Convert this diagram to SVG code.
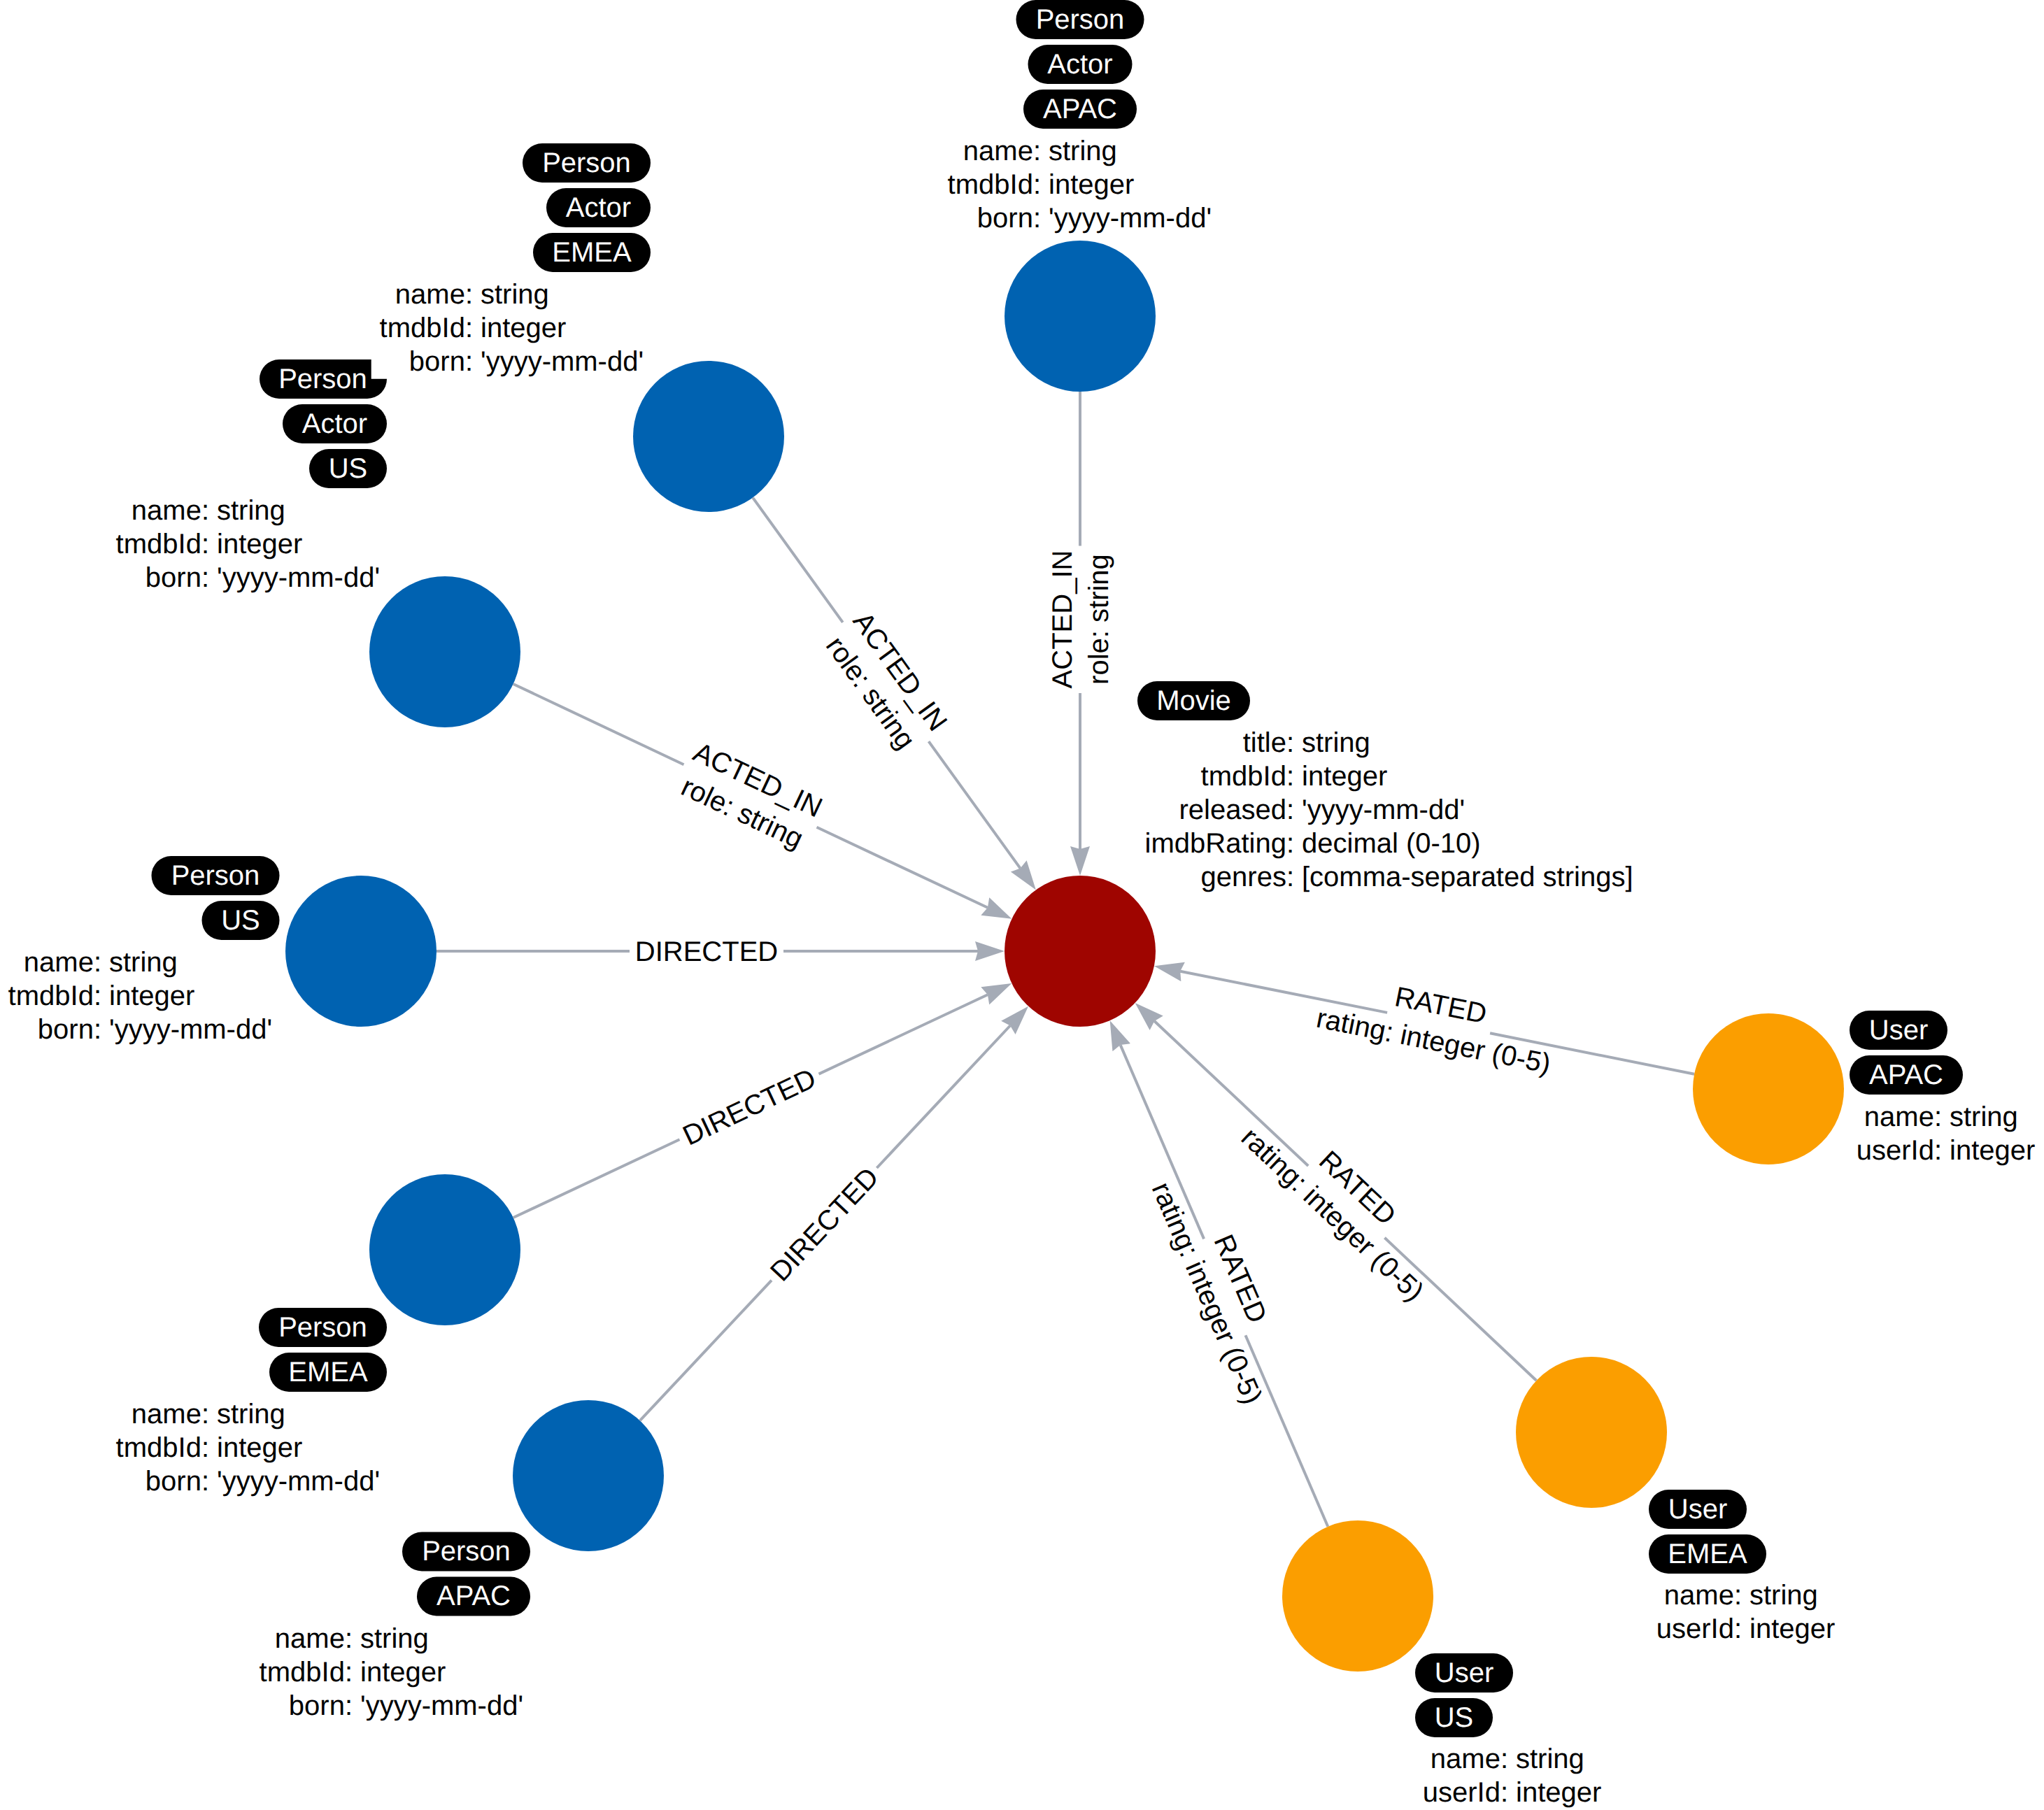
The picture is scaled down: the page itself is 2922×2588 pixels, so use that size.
<svg xmlns="http://www.w3.org/2000/svg" width="2922" height="2588" viewBox="0 0 2922 2588">
<style>
text{font-family:"Liberation Sans",Arial,Helvetica,sans-serif;font-size:40px;fill:#000;text-rendering:geometricPrecision}
.l{fill:#fff;text-anchor:middle}
.k{text-anchor:end}
.c{text-anchor:middle}
.p{fill:#000}
.b{fill:#0062b1}.r{fill:#9f0500}.o{fill:#fb9e00}
#edges line{stroke:#a5abb6;stroke-width:4}
.a{marker-end:url(#arrow)}
</style>
<defs>
<marker id="arrow" markerUnits="userSpaceOnUse" viewBox="0 0 42 30" markerWidth="42" markerHeight="30" refX="4" refY="15" orient="auto">
<path d="M0,1 L42,15 L0,29 L4,15 Z" fill="#a5abb6"/>
</marker>
</defs>
<rect width="2922" height="2588" fill="#fff"/>
<g id="edges">
<line x1="1544" y1="560" x2="1544" y2="780.5"/><line class="a" x1="1544" y1="991" x2="1544" y2="1214"/>
<text class="c" transform="translate(1544,885.5) rotate(-90)" y="-12">ACTED_IN</text>
<text class="c" transform="translate(1544,885.5) rotate(-90)" y="40">role: string</text>

<line x1="1076.2" y1="711.6" x2="1204.8" y2="889.8"/><line class="a" x1="1327.6" y1="1060.2" x2="1458.6" y2="1241.6"/>
<text class="c" transform="translate(1266.2,975) rotate(54.19)" y="-12">ACTED_IN</text>
<text class="c" transform="translate(1266.2,975) rotate(54.19)" y="40">role: string</text>

<line x1="733.7" y1="978" x2="977.5" y2="1093.2"/><line class="a" x1="1167.5" y1="1182.8" x2="1411.9" y2="1297.7"/>
<text class="c" transform="translate(1072.5,1138) rotate(25.24)" y="-12">ACTED_IN</text>
<text class="c" transform="translate(1072.5,1138) rotate(25.24)" y="40">role: string</text>

<line x1="624" y1="1360" x2="900" y2="1360"/><line class="a" x1="1120" y1="1360" x2="1398" y2="1360"/>
<text class="c" transform="translate(1010,1360)" y="14">DIRECTED</text>

<line x1="733.7" y1="1741" x2="971.5" y2="1629.2"/><line class="a" x1="1170.5" y1="1535.6" x2="1411.9" y2="1422.2"/>
<text class="c" transform="translate(1071,1582.4) rotate(-25.18)" y="14">DIRECTED</text>

<line x1="914.9" y1="2031.2" x2="1103" y2="1830.6"/><line class="a" x1="1253.4" y1="1670" x2="1444.1" y2="1466.5"/>
<text class="c" transform="translate(1178.2,1750.3) rotate(-46.85)" y="14">DIRECTED</text>

<line x1="1898.3" y1="2182.8" x2="1780.5" y2="1909.2"/><line class="a" x1="1721.1" y1="1771.4" x2="1601.7" y2="1494.1"/>
<text class="c" transform="translate(1750,1838.5) rotate(66.7)" y="-12">RATED</text>
<text class="c" transform="translate(1750,1838.5) rotate(66.7)" y="40">rating: integer (0-5)</text>

<line x1="2196.4" y1="1974" x2="1979.4" y2="1769.8"/><line class="a" x1="1870.2" y1="1667" x2="1650.3" y2="1460"/>
<text class="c" transform="translate(1923.3,1717) rotate(43.26)" y="-12">RATED</text>
<text class="c" transform="translate(1923.3,1717) rotate(43.26)" y="40">rating: integer (0-5)</text>

<line x1="2422.1" y1="1535.8" x2="2130.1" y2="1477.3"/><line class="a" x1="1983.1" y1="1447.9" x2="1687.2" y2="1388.7"/>
<text class="c" transform="translate(2054.6,1462.2) rotate(11.32)" y="-12">RATED</text>
<text class="c" transform="translate(2054.6,1462.2) rotate(11.32)" y="40">rating: integer (0-5)</text>
</g>

<g id="movie">
<circle class="r" cx="1544" cy="1360" r="108"/>
<rect class="p" x="1626" y="974" width="161" height="56" rx="28"/>
<text class="l" x="1706.5" y="1014.5">Movie</text>
<text class="k" x="1850" y="1074.5">title:</text><text x="1861" y="1074.5">string</text>
<text class="k" x="1850" y="1122.5">tmdbId:</text><text x="1861" y="1122.5">integer</text>
<text class="k" x="1850" y="1170.5">released:</text><text x="1861" y="1170.5">'yyyy-mm-dd'</text>
<text class="k" x="1850" y="1218.5">imdbRating:</text><text x="1861" y="1218.5">decimal (0-10)</text>
<text class="k" x="1850" y="1266.5">genres:</text><text x="1861" y="1266.5">[comma-separated strings]</text>
</g>

<g id="actor-apac">
<circle class="b" cx="1544" cy="452" r="108"/>
<rect class="p" x="1452.5" y="0" width="183" height="56" rx="28"/><text class="l" x="1544" y="40.5">Person</text>
<rect class="p" x="1469.5" y="64" width="149" height="56" rx="28"/><text class="l" x="1544" y="104.5">Actor</text>
<rect class="p" x="1463" y="128" width="162" height="56" rx="28"/><text class="l" x="1544" y="168.5">APAC</text>
<text class="k" x="1488" y="228.5">name:</text><text x="1499" y="228.5">string</text>
<text class="k" x="1488" y="276.5">tmdbId:</text><text x="1499" y="276.5">integer</text>
<text class="k" x="1488" y="324.5">born:</text><text x="1499" y="324.5">'yyyy-mm-dd'</text>
</g>

<g id="actor-emea">
<circle class="b" cx="1013" cy="624" r="108"/>
<rect class="p" x="747" y="205" width="183" height="56" rx="28"/><text class="l" x="838.5" y="245.5">Person</text>
<rect class="p" x="781" y="269" width="149" height="56" rx="28"/><text class="l" x="855.5" y="309.5">Actor</text>
<rect class="p" x="762" y="333" width="168" height="56" rx="28"/><text class="l" x="846" y="373.5">EMEA</text>
<text class="k" x="676" y="433.5">name:</text><text x="687" y="433.5">string</text>
<text class="k" x="676" y="481.5">tmdbId:</text><text x="687" y="481.5">integer</text>
<text class="k" x="676" y="529.5">born:</text><text x="687" y="529.5">'yyyy-mm-dd'</text>
</g>

<g id="actor-us">
<circle class="b" cx="636" cy="932" r="108"/>
<path class="p" d="M399,514 H530.7 V541.7 H553 A28,28 0 0 1 525,570 H399 A28,28 0 0 1 399,514 Z"/><text class="l" x="461.5" y="554.5">Person</text>
<rect class="p" x="404" y="578" width="149" height="56" rx="28"/><text class="l" x="478.5" y="618.5">Actor</text>
<rect class="p" x="442" y="642" width="111" height="56" rx="28"/><text class="l" x="497.5" y="682.5">US</text>
<text class="k" x="299" y="742.5">name:</text><text x="310" y="742.5">string</text>
<text class="k" x="299" y="790.5">tmdbId:</text><text x="310" y="790.5">integer</text>
<text class="k" x="299" y="838.5">born:</text><text x="310" y="838.5">'yyyy-mm-dd'</text>
</g>

<g id="director-us">
<circle class="b" cx="516" cy="1360" r="108"/>
<rect class="p" x="216.5" y="1224" width="183" height="56" rx="28"/><text class="l" x="308" y="1264.5">Person</text>
<rect class="p" x="288.5" y="1288" width="111" height="56" rx="28"/><text class="l" x="344" y="1328.5">US</text>
<text class="k" x="145" y="1388.5">name:</text><text x="156" y="1388.5">string</text>
<text class="k" x="145" y="1436.5">tmdbId:</text><text x="156" y="1436.5">integer</text>
<text class="k" x="145" y="1484.5">born:</text><text x="156" y="1484.5">'yyyy-mm-dd'</text>
</g>

<g id="director-emea">
<circle class="b" cx="636" cy="1787" r="108"/>
<rect class="p" x="370" y="1870" width="183" height="56" rx="28"/><text class="l" x="461.5" y="1910.5">Person</text>
<rect class="p" x="385" y="1934" width="168" height="56" rx="28"/><text class="l" x="469" y="1974.5">EMEA</text>
<text class="k" x="299" y="2034.5">name:</text><text x="310" y="2034.5">string</text>
<text class="k" x="299" y="2082.5">tmdbId:</text><text x="310" y="2082.5">integer</text>
<text class="k" x="299" y="2130.5">born:</text><text x="310" y="2130.5">'yyyy-mm-dd'</text>
</g>

<g id="director-apac">
<circle class="b" cx="841" cy="2110" r="108"/>
<rect class="p" x="575" y="2190.5" width="183" height="56" rx="28"/><text class="l" x="666.5" y="2231">Person</text>
<rect class="p" x="596" y="2254.5" width="162" height="56" rx="28"/><text class="l" x="677" y="2295">APAC</text>
<text class="k" x="504" y="2355.5">name:</text><text x="515" y="2355.5">string</text>
<text class="k" x="504" y="2403.5">tmdbId:</text><text x="515" y="2403.5">integer</text>
<text class="k" x="504" y="2451.5">born:</text><text x="515" y="2451.5">'yyyy-mm-dd'</text>
</g>

<g id="user-us">
<circle class="o" cx="1941" cy="2282" r="108"/>
<rect class="p" x="2023" y="2364" width="140" height="56" rx="28"/><text class="l" x="2093" y="2404.5">User</text>
<rect class="p" x="2023" y="2428" width="111" height="56" rx="28"/><text class="l" x="2078.5" y="2468.5">US</text>
<text class="k" x="2156" y="2527.5">name:</text><text x="2167" y="2527.5">string</text>
<text class="k" x="2156" y="2575.5">userId:</text><text x="2167" y="2575.5">integer</text>
</g>

<g id="user-emea">
<circle class="o" cx="2275" cy="2048" r="108"/>
<rect class="p" x="2357" y="2130" width="140" height="56" rx="28"/><text class="l" x="2427" y="2170.5">User</text>
<rect class="p" x="2357" y="2194" width="168" height="56" rx="28"/><text class="l" x="2441" y="2234.5">EMEA</text>
<text class="k" x="2490" y="2294">name:</text><text x="2501" y="2294">string</text>
<text class="k" x="2490" y="2342">userId:</text><text x="2501" y="2342">integer</text>
</g>

<g id="user-apac">
<circle class="o" cx="2528" cy="1557" r="108"/>
<rect class="p" x="2644" y="1445" width="140" height="56" rx="28"/><text class="l" x="2714" y="1485.5">User</text>
<rect class="p" x="2644" y="1509" width="162" height="56" rx="28"/><text class="l" x="2725" y="1549.5">APAC</text>
<text class="k" x="2776" y="1609.5">name:</text><text x="2787" y="1609.5">string</text>
<text class="k" x="2776" y="1657.5">userId:</text><text x="2787" y="1657.5">integer</text>
</g>
</svg>
